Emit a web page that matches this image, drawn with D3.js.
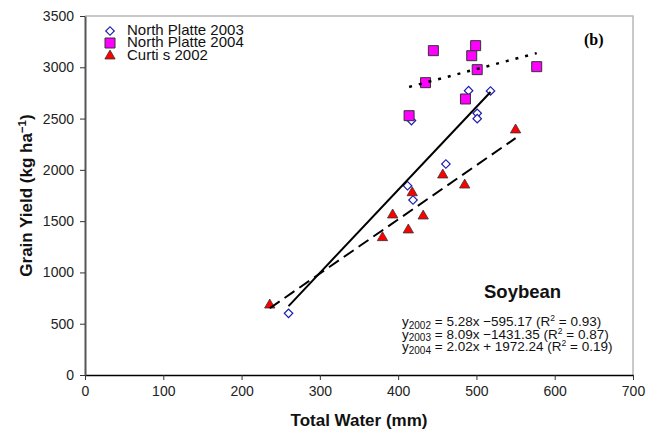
<!DOCTYPE html>
<html>
<head>
<meta charset="utf-8">
<script src="https://cdn.jsdelivr.net/npm/d3@7/dist/d3.min.js"></script>
<style>
    body { margin: 0; background: #fff; }
    svg { display: block; font-family: Arial, "Liberation Sans", sans-serif; }
</style>
</head>
<body>
<div id="chart"></div>
<script>
// 数据：估计值 [Total Water (mm), Grain Yield (kg/ha)]
var np2003 = [[260, 601], [412, 1845], [417, 2480], [419, 1706], [461, 2057],
    [490, 2772], [501, 2551], [501, 2499], [518, 2769]];
var np2004 = [[414, 2528], [435, 2850], [445, 3162], [486, 2691], [494, 3113],
    [499, 3211], [501, 2977], [577, 3006]];
var curtis2002 = [[236, 682], [380, 1339], [393, 1560], [413, 1414], [418, 1777],
    [432, 1550], [457, 1950], [485, 1852], [550, 2389]];

var legendLabels = ['North Platte 2003', 'North Platte 2004', 'Curti s 2002'];

// 回归线 y = a x + b
var fitSlopes = [5.28, 8.09, 2.02];
var fitIntercepts = [-595.17, -1431.35, 1972.24];
var fitYears = ['2002', '2003', '2004'];
var fitR2 = ['0.93', '0.87', '0.19'];

var xTicks = [0, 100, 200, 300, 400, 500, 600, 700];
var yTicks = [0, 500, 1000, 1500, 2000, 2500, 3000, 3500];

var width = 647;
var height = 434;
var padding = { top: 16, right: 14, bottom: 59, left: 85 };

var svg = d3.select('#chart')
    .append('svg')
    .attr('width', width)
    .attr('height', height);

var xScale = d3.scaleLinear()
    .domain([0, 700])
    .range([padding.left, width - padding.right]);
var yScale = d3.scaleLinear()
    .domain([0, 3500])
    .range([height - padding.bottom, padding.top]);

// 外框（上、右）浅灰
svg.append('path')
    .attr('d', 'M' + xScale(0) + ',' + yScale(3500) + 'H' + xScale(700) + 'V' + yScale(0))
    .attr('fill', 'none')
    .attr('stroke', '#b8b8b8')
    .attr('stroke-width', 1.5);

// 坐标轴
var xAxis = d3.axisBottom(xScale).tickValues(xTicks).tickFormat(d3.format('d'))
    .tickSize(5).tickSizeOuter(0).tickPadding(6);
var yAxis = d3.axisLeft(yScale).tickValues(yTicks).tickFormat(d3.format('d'))
    .tickSize(5).tickSizeOuter(0).tickPadding(6);

var gx = svg.append('g')
    .attr('transform', 'translate(0,' + yScale(0) + ')')
    .call(xAxis);
gx.select('.domain').attr('stroke', '#000').attr('stroke-width', 1.5);
gx.selectAll('.tick line').attr('stroke', '#333');
gx.selectAll('.tick text').attr('font-size', 14).attr('fill', '#222')
    .attr('font-family', 'Arial, "Liberation Sans", sans-serif');

var gy = svg.append('g')
    .attr('transform', 'translate(' + xScale(0) + ',0)')
    .call(yAxis);
gy.select('.domain').attr('stroke', '#555').attr('stroke-width', 2);
gy.selectAll('.tick line').attr('stroke', '#333');
gy.selectAll('.tick text').attr('font-size', 14).attr('fill', '#222')
    .attr('font-family', 'Arial, "Liberation Sans", sans-serif');

// 标记形状
var diamond = d3.symbol().type(d3.symbolSquare).size(36);
var square = d3.symbol().type(d3.symbolSquare).size(100);
var triangle = d3.symbol().type(d3.symbolTriangle).size(46);

function diamondAt(g, x, y) {
    return g.append('path')
        .attr('d', diamond)
        .attr('transform', 'translate(' + x + ',' + y + ') rotate(45)')
        .attr('fill', '#fff')
        .attr('stroke', '#1c1cb0')
        .attr('stroke-width', 1.2);
}
function squareAt(g, x, y) {
    return g.append('path')
        .attr('d', square)
        .attr('transform', 'translate(' + x + ',' + y + ')')
        .attr('fill', '#ff00ff')
        .attr('stroke', '#333')
        .attr('stroke-width', 1);
}
function triangleAt(g, x, y) {
    return g.append('path')
        .attr('d', triangle)
        .attr('transform', 'translate(' + x + ',' + y + ')')
        .attr('fill', '#ff0000')
        .attr('stroke', '#333')
        .attr('stroke-width', 0.8);
}

var gm = svg.append('g');
np2003.forEach(function (d) { diamondAt(gm, xScale(d[0]), yScale(d[1])); });
np2004.forEach(function (d) { squareAt(gm, xScale(d[0]), yScale(d[1])); });
curtis2002.forEach(function (d) { triangleAt(gm, xScale(d[0]), yScale(d[1])); });

// 回归线，范围取各组数据的最小最大值
var fitData = [curtis2002, np2003, np2004];
var fitDash = ['12,6', null, '3,7'];
var fitWidth = [2, 2, 2.5];
var linePath = d3.line()
    .x(function (d) { return xScale(d[0]); })
    .y(function (d) { return yScale(d[1]); });

for (var i = 0; i < 3; i++) {
    var ext = d3.extent(fitData[i], function (d) { return d[0]; });
    var pts = ext.map(function (x) { return [x, fitSlopes[i] * x + fitIntercepts[i]]; });
    svg.append('path')
        .attr('d', linePath(pts))
        .attr('fill', 'none')
        .attr('stroke', '#000')
        .attr('stroke-width', fitWidth[i])
        .attr('stroke-dasharray', fitDash[i]);
}

// 图例
var legendY = [31, 43, 56];
var legendTextY = [34.5, 46.7, 60];
var lg = svg.append('g');
diamondAt(lg, 110, legendY[0]);
squareAt(lg, 110, legendY[1]);
triangleAt(lg, 110, legendY[2]);
lg.selectAll('text').data(legendLabels).enter().append('text')
    .attr('x', 127)
    .attr('y', function (d, i) { return legendTextY[i]; })
    .attr('font-size', 15)
    .attr('fill', '#111')
    .text(function (d) { return d; });

// (b)
svg.append('text')
    .attr('x', 584).attr('y', 45)
    .attr('font-family', '"Liberation Serif", "Times New Roman", serif')
    .attr('font-weight', 'bold')
    .attr('font-size', 16)
    .text('(b)');

// Soybean 及方程
svg.append('text')
    .attr('x', 484).attr('y', 298)
    .attr('font-weight', 'bold')
    .attr('font-size', 18.5)
    .attr('fill', '#111')
    .text('Soybean');

var eqY = [326, 338.5, 351];
fitYears.forEach(function (yr, k) {
    var sign = fitIntercepts[k] < 0 ? ' \u2212' : ' + ';
    var t = svg.append('text')
        .attr('x', 402).attr('y', eqY[k])
        .attr('font-size', 13.5)
        .attr('fill', '#111');
    t.append('tspan').text('y');
    t.append('tspan').attr('font-size', 10).attr('dy', 2.5).text(yr);
    t.append('tspan').attr('dy', -2.5)
        .text(' = ' + fitSlopes[k].toFixed(2) + 'x' + sign + Math.abs(fitIntercepts[k]).toFixed(2) + ' (R');
    t.append('tspan').attr('font-size', 8.5).attr('dy', -5).text('2');
    t.append('tspan').attr('dy', 5).text(' = ' + fitR2[k] + ')');
});

// 轴标题
svg.append('text')
    .attr('x', (xScale(0) + xScale(700)) / 2)
    .attr('y', 426)
    .attr('text-anchor', 'middle')
    .attr('font-weight', 'bold')
    .attr('font-size', 17)
    .attr('fill', '#111')
    .text('Total Water (mm)');

var yt = svg.append('text')
    .attr('transform', 'translate(32,' + ((yScale(0) + yScale(3500)) / 2) + ') rotate(-90)')
    .attr('text-anchor', 'middle')
    .attr('font-weight', 'bold')
    .attr('font-size', 17)
    .attr('fill', '#111');
yt.append('tspan').text('Grain Yield (kg ha');
yt.append('tspan').attr('font-size', 11.5).attr('dy', -6).text('\u22121');
yt.append('tspan').attr('dy', 6).text(')');
</script>
</body>
</html>
